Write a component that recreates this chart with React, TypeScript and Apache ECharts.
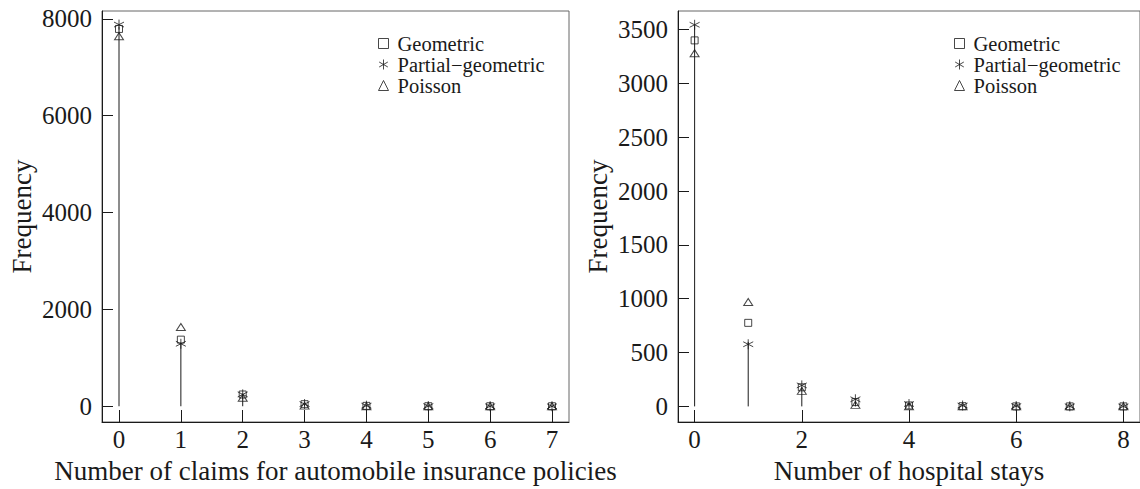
import React, { useEffect, useRef } from "react";
import * as echarts from "echarts";

const claimsCounts = [0, 1, 2, 3, 4, 5, 6, 7];
const claimsObserved = [7840, 1317, 239, 42, 14, 4, 4, 1];
const claimsGeometric = [7790, 1375, 243, 43, 8, 1, 0, 0];
const claimsPartial = [7880, 1290, 245, 45, 12, 4, 1, 0];
const claimsPoisson = [7640, 1637, 175, 13, 1, 0, 0, 0];
const claimsYTicks = [0, 2000, 4000, 6000, 8000];
const claimsXTicks = [0, 1, 2, 3, 4, 5, 6, 7];

const staysCounts = [0, 1, 2, 3, 4, 5, 6, 7, 8];
const staysObserved = [3541, 599, 176, 48, 20, 12, 5, 1, 4];
const staysGeometric = [3400, 776, 177, 40, 9, 2, 0, 0, 0];
const staysPartial = [3545, 577, 195, 66, 22, 8, 3, 1, 0];
const staysPoisson = [3280, 970, 144, 14, 1, 0, 0, 0, 0];
const staysYTicks = [0, 500, 1000, 1500, 2000, 2500, 3000, 3500];
const staysXTicks = [0, 2, 4, 6, 8];

const seriesNames = ["Geometric", "Partial\u2212geometric", "Poisson"];

const FONT = "'Liberation Serif', 'DejaVu Serif', serif";
const INK = "#1a1a1a";
const ASTERISK = "path://M5 0 L5 10 M0.67 2.5 L9.33 7.5 M0.67 7.5 L9.33 2.5";

const hollow = { color: "rgba(0,0,0,0)", borderColor: INK, borderWidth: 1 };
const plain = (v: number) => String(v);

function xAxis(gridIndex: number, min: number, max: number, ticks: number[], name: string) {
  return {
    type: "value",
    gridIndex,
    min,
    max,
    name,
    nameLocation: "middle",
    nameGap: 35,
    nameTextStyle: { fontFamily: FONT, fontSize: 27, color: INK },
    axisLine: { show: true, onZero: false, lineStyle: { color: INK, width: 1 } },
    axisTick: { show: true, inside: true, length: 12, customValues: ticks, lineStyle: { color: INK } },
    axisLabel: { customValues: ticks, formatter: plain, fontFamily: FONT, fontSize: 25, color: INK, margin: 5 },
    splitLine: { show: false },
  };
}

function yAxis(gridIndex: number, min: number, max: number, ticks: number[]) {
  return {
    type: "value",
    gridIndex,
    min,
    max,
    name: "Frequency",
    nameLocation: "middle",
    nameGap: 67,
    nameTextStyle: { fontFamily: FONT, fontSize: 27, color: INK },
    axisLine: { show: true, onZero: false, lineStyle: { color: INK, width: 1 } },
    axisTick: { show: true, inside: true, length: 11, customValues: ticks, lineStyle: { color: INK } },
    axisLabel: { customValues: ticks, formatter: plain, fontFamily: FONT, fontSize: 25, color: INK, margin: 10 },
    splitLine: { show: false },
  };
}

function stems(idx: number, counts: number[], observed: number[]) {
  return {
    type: "custom",
    xAxisIndex: idx,
    yAxisIndex: idx,
    data: counts.map((c, i) => [c, observed[i]]),
    encode: { x: 0, y: 1 },
    z: 1,
    renderItem: (_p: any, api: any) => {
      const x = api.value(0);
      const y = api.value(1);
      const p0 = api.coord([x, 0]);
      const p1 = api.coord([x, y]);
      return {
        type: "line",
        shape: { x1: p0[0], y1: p0[1], x2: p1[0], y2: p1[1] },
        style: { stroke: INK, lineWidth: 1 },
      };
    },
  };
}

function markers(idx: number, counts: number[], geo: number[], part: number[], poi: number[]) {
  return [
    {
      type: "scatter",
      name: seriesNames[0],
      xAxisIndex: idx,
      yAxisIndex: idx,
      symbol: "rect",
      symbolSize: 7,
      itemStyle: hollow,
      z: 3,
      data: counts.map((c, i) => [c, geo[i]]),
    },
    {
      type: "scatter",
      name: seriesNames[1],
      xAxisIndex: idx,
      yAxisIndex: idx,
      symbol: ASTERISK,
      symbolSize: 10,
      itemStyle: hollow,
      z: 3,
      data: counts.map((c, i) => [c, part[i]]),
    },
    {
      type: "scatter",
      name: seriesNames[2],
      xAxisIndex: idx,
      yAxisIndex: idx,
      symbol: "triangle",
      symbolSize: [9, 7],
      itemStyle: hollow,
      z: 3,
      data: counts.map((c, i) => [c, poi[i]]),
    },
  ];
}

function legend(left: number) {
  return {
    orient: "vertical",
    left,
    top: 28,
    itemWidth: 10,
    itemHeight: 10,
    itemGap: 0,
    selectedMode: false,
    data: [
      { name: seriesNames[0], icon: "rect", itemStyle: hollow },
      { name: seriesNames[1], icon: ASTERISK, itemStyle: hollow },
      { name: seriesNames[2], icon: "triangle", itemStyle: hollow },
    ],
    textStyle: { fontFamily: FONT, fontSize: 20.5, lineHeight: 21, color: INK, padding: [0, 0, 0, 4] },
  };
}

export default function App() {
  const ref = useRef<HTMLDivElement>(null);
  useEffect(() => {
    if (!ref.current) return;
    const chart = echarts.init(ref.current, undefined, { renderer: "svg" });
    chart.setOption({
      animation: false,
      backgroundColor: "#ffffff",
      grid: [
        { left: 102, top: 11, width: 467, height: 418, show: true, borderColor: "#666", borderWidth: 1 },
        { left: 678, top: 11, width: 467, height: 418, show: true, borderColor: "#666", borderWidth: 1 },
      ],
      xAxis: [
        xAxis(0, -0.275, 7.275, claimsXTicks, "Number of claims for automobile insurance policies"),
        xAxis(1, -0.31, 8.31, staysXTicks, "Number of hospital stays"),
      ],
      yAxis: [yAxis(0, -325, 8160, claimsYTicks), yAxis(1, -145, 3673, staysYTicks)],
      legend: [legend(373), legend(949)],
      series: [
        stems(0, claimsCounts, claimsObserved),
        ...markers(0, claimsCounts, claimsGeometric, claimsPartial, claimsPoisson),
        stems(1, staysCounts, staysObserved),
        ...markers(1, staysCounts, staysGeometric, staysPartial, staysPoisson),
      ],
    });
    return () => chart.dispose();
  }, []);
  return <div ref={ref} style={{ width: 1140, height: 489, position: "absolute", left: 0, top: 0 }} />;
}
